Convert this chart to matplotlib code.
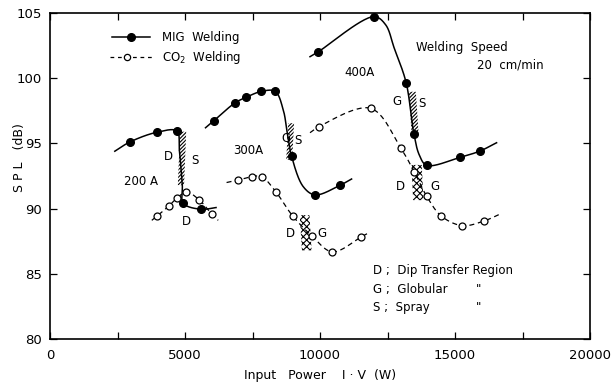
import numpy as np
import matplotlib
matplotlib.use("Agg")
import matplotlib.pyplot as plt
from matplotlib.patches import Polygon

plt.rcParams['font.family'] = ['DejaVu Sans']
plt.rcParams['hatch.linewidth'] = 0.8

# ---------------- data ----------------
# MIG welding (filled markers)
mig200_w = [2950, 3950, 4700, 4940, 5600]
mig200_db = [95.1, 95.85, 95.95, 90.4, 89.95]
mig300_w = [6070, 6860, 7260, 7830, 8340, 8950, 9820, 10750]
mig300_db = [96.74, 98.12, 98.53, 98.99, 98.99, 94.0, 91.05, 91.8]
mig400_w = [9940, 12000, 13190, 13480, 13950, 15190, 15930]
mig400_db = [102.03, 104.72, 99.66, 95.7, 93.32, 93.93, 94.42]

# CO2 welding (open markers)
co2_200_w = [3960, 4400, 4690, 5050, 5530, 5990]
co2_200_db = [89.42, 90.2, 90.79, 91.28, 90.66, 89.58]
co2_300_w = [6975, 7470, 7840, 8370, 8990, 9700, 10460, 11520]
co2_300_db = [92.19, 92.45, 92.45, 91.27, 89.43, 87.9, 86.68, 87.82]
co2_400_w = [9963, 11877, 12988, 13494, 13951, 14490, 15272, 16074]
co2_400_db = [96.28, 97.69, 94.67, 92.8, 90.95, 89.43, 88.69, 89.05]

# traced curve paths (including the line ends beyond the markers)
mig200_curve_w = [2400, 2950, 3950, 4700, 4790, 4900, 4940, 5600, 6150]
mig200_curve_db = [94.4, 95.1, 95.85, 95.95, 94.5, 91.8, 90.4, 89.95, 90.08]
mig300_curve_w = [5760, 6070, 6860, 7260, 7830, 8340, 8640, 8790, 8950, 9380, 9820, 10750, 11170]
mig300_curve_db = [96.2, 96.74, 98.12, 98.53, 98.99, 98.99, 97.56, 95.77, 94.0, 91.68, 91.05, 91.8, 92.27]
mig400_curve_w = [9630, 9940, 12000, 12430, 12750, 13190, 13480, 13680, 13950, 15190, 15930, 16540]
mig400_curve_db = [101.65, 102.03, 104.72, 104.1, 102.3, 99.66, 95.7, 94.1, 93.32, 93.93, 94.42, 95.05]

co2_200_curve_w = [3770, 3960, 4400, 4690, 5050, 5530, 5990, 6230]
co2_200_curve_db = [89.1, 89.42, 90.2, 90.79, 91.28, 90.66, 89.58, 89.1]
co2_300_curve_w = [6540, 6975, 7470, 7840, 8370, 8990, 9700, 10460, 11520, 11850]
co2_300_curve_db = [92.0, 92.19, 92.45, 92.45, 91.27, 89.43, 87.9, 86.68, 87.82, 88.2]
co2_400_curve_w = [9630, 9963, 11877, 12988, 13494, 13951, 14490, 15272, 16074, 16730]
co2_400_curve_db = [95.82, 96.28, 97.69, 94.67, 92.8, 90.95, 89.43, 88.69, 89.05, 89.64]

# transfer-region bands: (w_top, db_top, w_bottom, db_bottom, width_w)
spray_bands = [(4930, 95.9, 4850, 91.8, 230),
               (8930, 96.55, 8860, 93.75, 220),
               (13420, 98.96, 13520, 95.8, 260)]
dip_bands = [(9430, 89.5, 9510, 86.8, 360),
             (13580, 93.35, 13640, 90.65, 380)]

x_ticks = [0, 5000, 10000, 15000, 20000]
y_ticks = [80, 85, 90, 95, 100, 105]

# ---------------- figure ----------------
W, H = 613, 387
fig = plt.figure(figsize=(W / 100, H / 100), dpi=100)
L, R, T, B = 50, 590, 13, 339
ax = fig.add_axes([L / W, 1 - B / H, (R - L) / W, (B - T) / H])
ax.set_xlim(0, 20000)
ax.set_ylim(80, 105)


def smooth(xs, ys, n=30):
    """centripetal Catmull-Rom through the points, done in display space"""
    pts = ax.transData.transform(np.column_stack([xs, ys]))
    P = np.vstack([2 * pts[0] - pts[1], pts, 2 * pts[-1] - pts[-2]])
    out = []
    for i in range(1, len(P) - 2):
        p0, p1, p2, p3 = P[i - 1], P[i], P[i + 1], P[i + 2]
        t0 = 0.0
        t1 = t0 + np.linalg.norm(p1 - p0) ** 0.5 + 1e-9
        t2 = t1 + np.linalg.norm(p2 - p1) ** 0.5 + 1e-9
        t3 = t2 + np.linalg.norm(p3 - p2) ** 0.5 + 1e-9
        t = np.linspace(t1, t2, n)[:, None]
        A1 = (t1 - t) / (t1 - t0) * p0 + (t - t0) / (t1 - t0) * p1
        A2 = (t2 - t) / (t2 - t1) * p1 + (t - t1) / (t2 - t1) * p2
        A3 = (t3 - t) / (t3 - t2) * p2 + (t - t2) / (t3 - t2) * p3
        B1 = (t2 - t) / (t2 - t0) * A1 + (t - t0) / (t2 - t0) * A2
        B2 = (t3 - t) / (t3 - t1) * A2 + (t - t1) / (t3 - t1) * A3
        C = (t2 - t) / (t2 - t1) * B1 + (t - t1) / (t2 - t1) * B2
        out.append(C)
    out = np.vstack(out)
    d = ax.transData.inverted().transform(out)
    return d[:, 0], d[:, 1]


# bands
for (w1, d1, w2, d2, wd) in spray_bands:
    poly = Polygon([(w1 - wd / 2, d1), (w1 + wd / 2, d1), (w2 + wd / 2, d2), (w2 - wd / 2, d2)],
                   closed=True, fill=False, edgecolor='black', linewidth=0, hatch='/////////', zorder=2)
    ax.add_patch(poly)
for (w1, d1, w2, d2, wd) in dip_bands:
    poly = Polygon([(w1 - wd / 2, d1), (w1 + wd / 2, d1), (w2 + wd / 2, d2), (w2 - wd / 2, d2)],
                   closed=True, fill=False, edgecolor='black', linewidth=0, hatch='xxxxx', zorder=2)
    ax.add_patch(poly)

# curves
for cw, cd in [(mig200_curve_w, mig200_curve_db), (mig300_curve_w, mig300_curve_db),
               (mig400_curve_w, mig400_curve_db)]:
    sx, sy = smooth(cw, cd)
    ax.plot(sx, sy, color='black', lw=1.1, zorder=3)
for cw, cd in [(co2_200_curve_w, co2_200_curve_db), (co2_300_curve_w, co2_300_curve_db),
               (co2_400_curve_w, co2_400_curve_db)]:
    sx, sy = smooth(cw, cd)
    ax.plot(sx, sy, color='black', lw=0.9, ls=(0, (4, 3)), zorder=3)

# markers
for mw, md in [(mig200_w, mig200_db), (mig300_w, mig300_db), (mig400_w, mig400_db)]:
    ax.plot(mw, md, 'o', ms=5.5, color='black', zorder=4)
for mw, md in [(co2_200_w, co2_200_db), (co2_300_w, co2_300_db), (co2_400_w, co2_400_db)]:
    ax.plot(mw, md, 'o', ms=5, mfc='white', mec='black', mew=0.9, zorder=4)

# axes styling
ax.set_xticks(x_ticks)
ax.set_yticks(y_ticks)
ax.set_xticks(np.arange(0, 20001, 2500), minor=True)
ax.tick_params(which='both', direction='in', top=True, right=True, labelsize=9.5)
ax.tick_params(which='major', length=5, width=0.9)
ax.tick_params(which='minor', length=5, width=0.9)
ax.tick_params(axis='x', pad=7)
ax.tick_params(axis='y', pad=6)
for s in ax.spines.values():
    s.set_linewidth(1.2)

fig.text(320 / W, 1 - 375 / H, 'Input   Power    I · V  (W)', ha='center', va='center', fontsize=9)
fig.text(19 / W, 1 - 158 / H, 'S P L   (dB)', ha='center', va='center', rotation=90, fontsize=9)

# legend (top-left)
fx = lambda px: (px - L) / (R - L)
fy = lambda py: (B - py) / (B - T)
ax.plot([fx(112), fx(150)], [fy(37), fy(37)], color='black', lw=1.1, transform=ax.transAxes)
ax.plot([fx(131)], [fy(37)], 'o', ms=5.5, color='black', transform=ax.transAxes)
ax.plot([fx(110), fx(152)], [fy(57), fy(57)], color='black', lw=0.9, ls=(0, (3, 3)), transform=ax.transAxes)
ax.plot([fx(127)], [fy(57)], 'o', ms=4.5, mfc='white', mec='black', mew=0.9, transform=ax.transAxes)
ax.text(fx(162), fy(37), 'MIG  Welding', transform=ax.transAxes, va='center', ha='left', fontsize=8.5)
ax.text(fx(162), fy(57), 'CO$_2$  Welding', transform=ax.transAxes, va='center', ha='left', fontsize=8.5)

# annotations
fs = 8.5
ax.text(3370, 92.1, '200 A', ha='center', va='center', fontsize=fs)
ax.text(4370, 94.03, 'D', ha='center', va='center', fontsize=fs)
ax.text(5370, 93.7, 'S', ha='center', va='center', fontsize=fs)
ax.text(5063, 89.0, 'D', ha='center', va='center', fontsize=fs)
ax.text(7352, 94.42, '300A', ha='center', va='center', fontsize=fs)
ax.text(8740, 95.4, 'G', ha='center', va='center', fontsize=fs)
ax.text(9185, 95.26, 'S', ha='center', va='center', fontsize=fs)
ax.text(8915, 88.1, 'D', ha='center', va='center', fontsize=fs)
ax.text(10063, 88.1, 'G', ha='center', va='center', fontsize=fs)
ax.text(11480, 100.44, '400A', ha='center', va='center', fontsize=fs)
ax.text(12840, 98.2, 'G', ha='center', va='center', fontsize=fs)
ax.text(13767, 98.07, 'S', ha='center', va='center', fontsize=fs)
ax.text(12989, 91.68, 'D', ha='center', va='center', fontsize=fs)
ax.text(14259, 91.68, 'G', ha='center', va='center', fontsize=fs)
ax.text(13556, 102.34, 'Welding  Speed', ha='left', va='center', fontsize=fs)
ax.text(15804, 101.0, '20  cm/min', ha='left', va='center', fontsize=fs)
ax.text(11952, 85.24, 'D ;  Dip Transfer Region', ha='left', va='center', fontsize=fs)
ax.text(11952, 83.81, 'G ;  Globular', ha='left', va='center', fontsize=fs)
ax.text(11952, 82.43, 'S ;  Spray', ha='left', va='center', fontsize=fs)
ax.text(15889, 83.81, '"', ha='center', va='center', fontsize=fs)
ax.text(15889, 82.43, '"', ha='center', va='center', fontsize=fs)

fig.savefig('out.png', dpi=100)
